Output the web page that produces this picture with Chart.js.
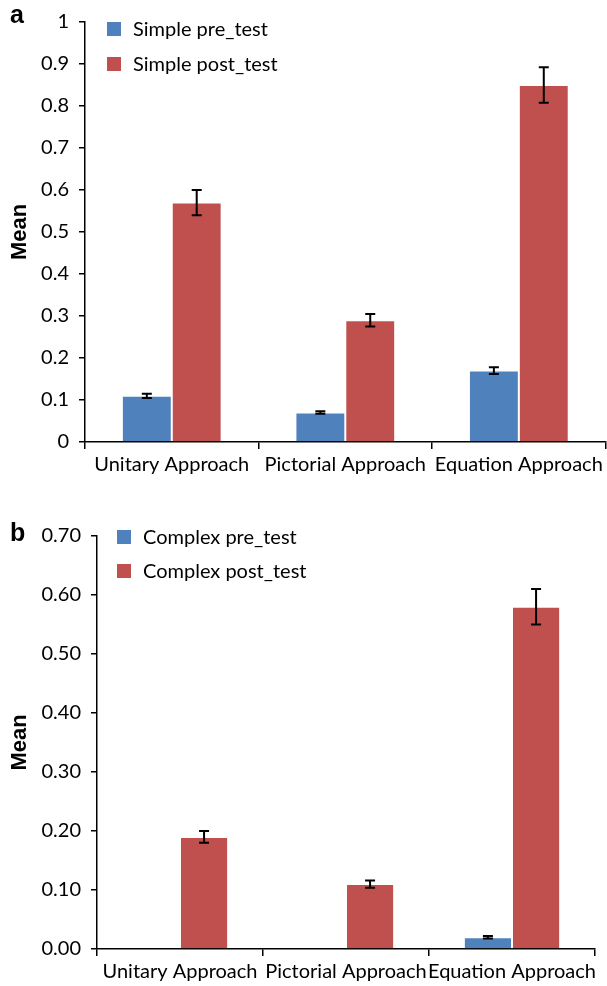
<!DOCTYPE html>
<html>
<head>
<meta charset="utf-8">
<script src="https://cdn.jsdelivr.net/npm/chart.js@4.4.1/dist/chart.umd.min.js"></script>
<style>
  body { margin: 0; background: #fff; width: 607px; height: 986px; overflow: hidden; }
  canvas { display: block; }
</style>
</head>
<body>
<canvas id="chartA" width="607" height="490"></canvas>
<canvas id="chartB" width="607" height="496"></canvas>
<script>
// categories shared by both panels
const approaches = ['Unitary Approach', 'Pictorial Approach', 'Equation Approach'];

// panel a - simple problems
const simplePre = [0.11, 0.07, 0.17];
const simplePreErr = [0.005, 0.003, 0.008];
const simplePost = [0.57, 0.29, 0.85];
const simplePostErr = [0.03, 0.015, 0.042];
const simpleTicks = ['0', '0.1', '0.2', '0.3', '0.4', '0.5', '0.6', '0.7', '0.8', '0.9', '1'];

// panel b - complex problems
const complexPre = [0.0, 0.0, 0.02];
const complexPreErr = [0, 0, 0.002];
const complexPost = [0.19, 0.11, 0.58];
const complexPostErr = [0.01, 0.006, 0.03];
const complexTicks = ['0.00', '0.10', '0.20', '0.30', '0.40', '0.50', '0.60', '0.70'];

const BLUE = '#4F81BD';
const RED = '#C0504D';
const FONT = 'Lato, "Open Sans", sans-serif';

// draws error bars, the inner legend, the "Mean" title and the panel letter
const extras = {
  id: 'extras',
  afterDatasetsDraw(chart) {
    const ctx = chart.ctx;
    const y = chart.scales.y;
    ctx.save();
    ctx.strokeStyle = '#000';
    ctx.lineWidth = 2;
    chart.data.datasets.forEach((ds, i) => {
      const meta = chart.getDatasetMeta(i);
      meta.data.forEach((bar, j) => {
        const e = ds.errors[j];
        if (!e) return;
        const top = y.getPixelForValue(ds.data[j] + e);
        const bot = y.getPixelForValue(ds.data[j] - e);
        ctx.beginPath();
        ctx.moveTo(bar.x, top); ctx.lineTo(bar.x, bot);
        ctx.moveTo(bar.x - 5, top); ctx.lineTo(bar.x + 5, top);
        ctx.moveTo(bar.x - 5, bot); ctx.lineTo(bar.x + 5, bot);
        ctx.stroke();
      });
    });
    ctx.restore();
  },
  afterDraw(chart, args, opts) {
    const ctx = chart.ctx;
    const area = chart.chartArea;
    ctx.save();
    // legend
    ctx.font = '20px ' + FONT;
    ctx.textBaseline = 'middle';
    chart.data.datasets.forEach((ds, i) => {
      const cy = opts.legendY + i * opts.legendGap;
      ctx.fillStyle = ds.backgroundColor;
      ctx.fillRect(opts.legendX, cy - 7, 14, 14);
      ctx.fillStyle = '#000';
      ctx.fillText(ds.label, opts.legendX + 26, cy + 1);
    });
    // y title
    ctx.font = 'bold 22px "Liberation Sans", Arial, sans-serif';
    ctx.textAlign = 'center';
    ctx.translate(20, (area.top + area.bottom) / 2);
    ctx.rotate(-Math.PI / 2);
    ctx.fillText('Mean', 0, 0);
    ctx.restore();
    // panel letter
    ctx.save();
    ctx.font = 'bold 25px "Liberation Sans", Arial, sans-serif';
    ctx.fillStyle = '#000';
    ctx.textBaseline = 'alphabetic';
    ctx.fillText(opts.tag, 10, opts.tagY);
    ctx.restore();
  }
};

function makeChart(id, pre, preErr, post, postErr, labels, preName, postName, cfg) {
  return new Chart(document.getElementById(id), {
    type: 'bar',
    data: {
      labels: approaches,
      datasets: [
        { label: preName, data: pre, errors: preErr, backgroundColor: BLUE,
          borderColor: 'rgba(255,255,255,0.45)', borderWidth: 1 },
        { label: postName, data: post, errors: postErr, backgroundColor: RED,
          borderColor: 'rgba(255,255,255,0.45)', borderWidth: 1 }
      ]
    },
    options: {
      responsive: false,
      animation: false,
      layout: { padding: { top: cfg.top, right: cfg.right, left: 0, bottom: 0 } },
      datasets: { bar: { categoryPercentage: cfg.catPct, barPercentage: 1 } },
      plugins: {
        legend: { display: false },
        tooltip: { enabled: false },
        extras: cfg
      },
      scales: {
        x: {
          grid: { offset: true, drawOnChartArea: false, color: '#000', tickLength: 7, lineWidth: 1.5 },
          border: { color: '#000', width: 1.5 },
          ticks: { color: '#000', font: { family: FONT, size: 20 }, padding: 4,
                   maxRotation: 0, autoSkip: false },
          afterFit(s) { s.height = cfg.xHeight; }
        },
        y: {
          min: 0,
          max: cfg.max,
          grid: { drawOnChartArea: false, color: '#000', tickLength: 6, lineWidth: 1.5 },
          border: { color: '#000', width: 1.5 },
          ticks: {
            stepSize: 0.1,
            color: '#000',
            font: { family: FONT, size: 20 },
            padding: cfg.tickPad,
            autoSkip: false,
            callback: (v, i) => labels[i]
          },
          afterFit(s) { s.width = cfg.yWidth; }
        }
      }
    },
    plugins: [extras]
  });
}

makeChart('chartA', simplePre, simplePreErr, simplePost, simplePostErr, simpleTicks,
  'Simple pre_test', 'Simple post_test',
  { max: 1, top: 15, right: 1, yWidth: 85, xHeight: 48, tickPad: 10, catPct: 0.575,
    legendX: 107, legendY: 29, legendGap: 35, tag: 'a', tagY: 23 });

makeChart('chartB', complexPre, complexPreErr, complexPost, complexPostErr, complexTicks,
  'Complex pre_test', 'Complex post_test',
  { max: 0.7, top: 46, right: 12, yWidth: 97, xHeight: 37, tickPad: 10, catPct: 0.58,
    legendX: 117, legendY: 47, legendGap: 34, tag: 'b', tagY: 51 });
</script>
</body>
</html>
